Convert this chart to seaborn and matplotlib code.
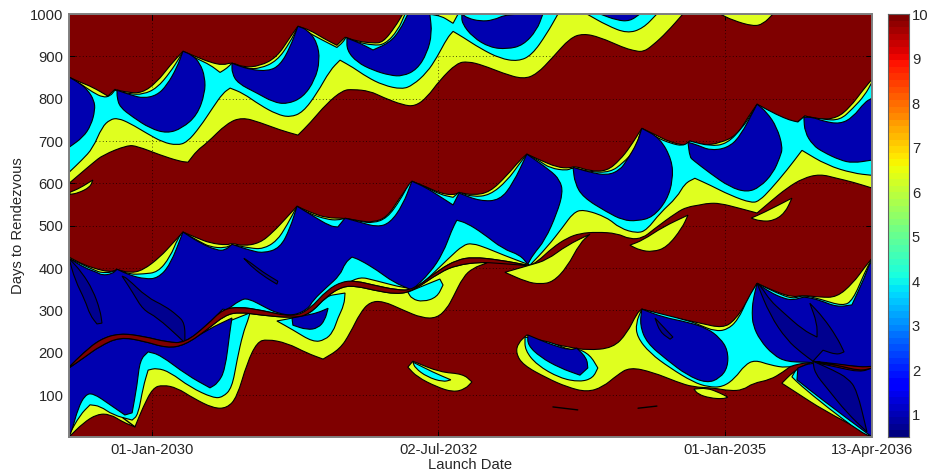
import numpy as np
import pandas as pd
import seaborn as sns
import matplotlib
matplotlib.use("Agg")
import matplotlib.pyplot as plt
from matplotlib.path import Path
from matplotlib.patches import PathPatch

# launch day (since 13-Apr-2029), days to rendezvous : contour outlines
x_ticks = [263, 1176, 2089, 2557]
x_labels = ["01-Jan-2030", "02-Jul-2032", "01-Jan-2035", "13-Apr-2036"]
y_ticks = [100, 200, 300, 400, 500, 600, 700, 800, 900, 1000]
cbar_ticks = [1, 2, 3, 4, 5, 6, 7, 8, 9, 10]

streak_upper = [(0,166),(45,199),(99,232),(162,246),(236,239),(312,225),(369,223),(439,265),(490,303),(544,308),(608,301),(713,284),(767,303),(821,348),(872,369),(917,369),(968,360),(1044,348),(1095,348),(1181,397),(1235,419),(1286,426),(1372,419),(1458,407)]
streak_lower = [(0,164),(45,187),(99,216),(162,237),(236,228),(312,211),(369,218),(439,254),(497,289),(544,296),(608,289),(713,282),(767,291),(821,334),(872,357),(917,357),(968,348),(1044,338),(1095,346),(1181,390),(1235,407),(1309,414),(1372,411),(1458,406)]
streak_right = [(2369,180),(2445,171),(2519,157),(2557,164),(2557,168),(2519,166),(2445,174)]

yellow_top = [(0,851),(35,839),(76,827),(124,806),(146,822),(185,815),(232,813),(280,839),(322,879),(363,912),(408,898),(449,886),(490,879),(519,886),(554,874),(608,877),(662,898),(704,945),(729,971),(767,962),(809,943),(853,926),(879,945),(917,936),(968,931),(1000,933),(1038,969),(1063,1000),(1955,1000),(1904,957),(1859,926),(1828,910),(1796,914),(1764,921),(1691,945),(1637,954),(1595,943),(1541,898),(1490,858),(1446,846),(1382,860),(1318,879),(1270,888),(1235,884),(1181,844),(1140,803),(1102,782),(1063,785),(1000,803),(958,818),(904,822),(872,820),(821,789),(767,742),(729,714),(672,726),(608,744),(551,756),(503,742),(439,695),(408,678),(379,650),(353,652),(290,667),(217,688),(185,690),(108,667),(76,648),(41,626),(0,600)]
cyan_top = [(0,851),(35,836),(76,815),(108,803),(131,806),(146,820),(194,811),(236,810),(280,825),(322,862),(353,898),(363,912),(411,893),(449,880),(481,862),(503,872),(519,884),(567,871),(608,871),(662,889),(704,933),(729,971),(777,950),(821,933),(853,921),(872,933),(882,945),(917,934),(968,926),(1006,928),(1048,962),(1070,1000),(1175,1000),(1223,978),(1239,1000),(1557,1000),(1522,954),(1474,903),(1430,888),(1372,895),(1309,919),(1255,945),(1223,959),(1204,943),(1172,898),(1140,862),(1095,832),(1060,822),(1000,832),(949,851),(904,874),(863,891),(831,867),(790,813),(745,768),(704,756),(662,763),(608,785),(554,813),(513,825),(490,813),(459,780),(417,733),(376,697),(344,690),(299,697),(248,718),(194,742),(156,754),(131,751),(105,733),(76,683),(41,655),(0,626)]
cyan_top2 = [(1649,1000),(1713,973),(1777,954),(1828,966),(1872,1000)]
yellow_blob_top = [(2073,1000),(2114,985),(2178,971),(2210,976),(2242,1000)]
blue_top0 = [(1691,1000),(1745,985),(1786,983),(1818,1000)]
blue_top1 = [(0,851),(35,836),(60,820),(80,796),(83,773),(70,737),(45,709),(0,685)]
blue_top2 = [(153,820),(153,803),(162,780),(204,756),(258,730),(312,718),(360,730),(408,761),(433,813),(433,851),(417,884),(392,903),(363,912),(344,874),(312,832),(280,808),(236,801),(201,808),(172,815)]
blue_top3 = [(519,884),(519,860),(538,836),(599,813),(650,792),(694,787),(745,803),(783,844),(799,891),(790,933),(761,962),(729,971),(704,921),(672,879),(634,865),(576,869),(535,879)]
blue_top4 = [(885,943),(885,914),(917,886),(968,867),(1022,855),(1063,853),(1108,869),(1140,907),(1156,954),(1149,1000),(1079,1000),(1054,962),(1022,933),(968,915),(927,931)]
blue_top5 = [(1251,1000),(1251,978),(1286,945),(1340,921),(1395,917),(1446,926),(1490,962),(1509,1000),(1395,1000),(1350,985),(1309,983),(1270,990)]
lens_left = [(3,579),(35,589),(76,608),(67,591),(29,577),(3,574)]

yellow_mid = [(0,426),(35,412),(76,400),(131,390),(153,397),(194,388),(236,395),(290,426),(331,459),(363,485),(408,471),(449,459),(503,454),(519,459),(554,452),(608,459),(650,485),(694,520),(726,546),(767,532),(821,518),(879,518),(927,511),(968,508),(1013,520),(1054,567),(1092,605),(1140,591),(1181,577),(1223,572),(1242,579),(1286,572),(1340,579),(1395,619),(1436,655),(1458,669),(1500,655),(1554,638),(1595,636),(1611,641),(1659,629),(1713,629),(1754,655),(1786,685),(1824,730),(1859,718),(1914,697),(1961,690),(1977,700),(2019,690),(2073,695),(2127,714),(2162,756),(2191,787),(2232,768),(2286,749),(2318,744),(2343,759),(2391,751),(2445,754),(2487,780),(2528,820),(2557,846),(2557,589),(2496,603),(2445,612),(2391,622),(2337,612),(2286,589),(2232,556),(2191,530),(2136,541),(2073,553),(2035,553),(2009,549),(1968,544),(1936,532),(1859,490),(1828,471),(1786,468),(1745,482),(1681,485),(1627,482),(1586,471),(1541,449),(1490,414),(1468,407)]
cyan_mid_up = [(0,423),(89,392),(108,389),(137,390),(153,397),(194,385),(236,386),(283,390),(322,426),(347,471),(363,485),(417,462),(449,450),(497,447),(519,456),(576,447),(618,445),(662,464),(694,501),(726,546),(767,528),(821,515),(856,513),(879,518),(927,510),(968,506),(1013,518),(1054,560),(1080,596),(1092,605),(1140,590),(1181,574),(1223,567),(1242,579),(1286,568),(1340,572),(1395,606),(1436,648),(1458,669),(1500,652),(1532,636),(1586,630),(1605,638),(1659,627),(1723,626),(1764,648),(1802,678),(1824,730),(1872,708),(1914,695),(1955,688),(1977,700),(2041,688),(2095,693),(2146,733),(2175,766),(2191,787),(2254,762),(2296,749),(2321,745),(2343,759),(2401,751),(2455,749),(2496,777),(2534,808),(2557,839)]
cyan_mid_low = [(2557,619),(2496,624),(2413,643),(2334,678),(2286,631),(2232,584),(2200,560),(2175,553),(2105,572),(2041,596),(1993,612),(1961,600),(1936,567),(1882,530),(1840,490),(1809,482),(1754,494),(1713,520),(1637,539),(1605,530),(1573,497),(1522,449),(1468,407),(1382,431),(1331,447),(1283,459),(1255,454),(1213,426),(1127,364),(1092,348),(968,372),(927,379),(885,364),(831,348),(790,317),(767,291)]
blue_mid1 = [(0,423),(51,400),(89,390),(105,383),(137,386),(153,397),(194,383),(242,374),(283,376),(322,407),(363,485),(417,459),(471,442),(497,442),(519,456),(576,442),(618,435),(672,447),(704,494),(726,546),(777,523),(831,499),(856,497),(879,518),(927,508),(981,497),(1022,506),(1063,549),(1092,605),(1134,591),(1175,572),(1223,549),(1242,577),(1309,558),(1372,560),(1414,600),(1458,669),(1532,631),(1563,608),(1573,579),(1554,530),(1516,466),(1477,431),(1461,409),(1436,431),(1382,445),(1318,482),(1267,506),(1235,513),(1219,490),(1191,435),(1149,388),(1092,348),(1032,367),(981,395),(927,419),(901,426),(879,412),(863,383),(821,355),(777,324),(761,303),(713,287),(662,294),(630,305),(570,329),(544,324),(503,301),(490,303)]
blue_mid2 = [(1605,638),(1611,600),(1637,567),(1713,532),(1764,513),(1809,511),(1859,520),(1904,560),(1923,608),(1920,655),(1882,707),(1824,730),(1809,695),(1777,655),(1754,631),(1713,619),(1659,626)]
blue_mid3 = [(1971,697),(1977,662),(1987,655),(2041,624),(2105,591),(2159,579),(2200,591),(2242,624),(2264,662),(2273,685),(2254,733),(2222,768),(2191,787),(2136,709),(2095,683),(2041,678),(2003,690)]
blue_mid4 = [(2340,756),(2343,721),(2369,690),(2401,674),(2455,655),(2496,648),(2557,655),(2557,801),(2534,792),(2496,756),(2455,740),(2401,747),(2369,756)]

yellow_low = [(0,1),(45,34),(89,55),(131,55),(172,36),(210,25),(236,72),(267,117),(299,124),(344,117),(395,93),(459,69),(503,69),(535,95),(567,176),(599,225),(630,232),(694,223),(758,199),(809,185),(863,209),(895,246),(927,294),(958,320),(1000,322),(1063,301),(1124,282),(1172,282),(1204,305),(1223,331),(1255,379),(1286,400),(1331,412),(1309,414),(1235,407),(1181,390)]
cyan_low1 = [(0,6),(35,53),(67,77),(99,74),(140,53),(201,41),(220,53),(236,119),(252,159),(280,164),(322,154),(385,119),(459,93),(490,95),(519,117),(535,183),(554,246),(570,277),(576,294)]
cyan_low2 = [(662,275),(713,254),(777,225),(815,230),(841,249),(856,282),(876,313),(879,341),(853,338),(821,334),(767,291),(713,282)]
cyan_low3 = [(1079,343),(1134,360),(1181,374),(1191,360),(1172,331),(1127,320),(1092,327)]
blue_low1 = [(0,1),(10,18),(29,69),(51,100),(76,105),(131,77),(178,53),(201,58),(217,124),(226,183),(252,202),(290,195),(376,147),(449,117),(474,128),(497,159),(513,254),(519,282)]
blue_low2 = [(710,282),(713,265),(758,254),(793,258),(815,277),(825,305),(790,294),(758,289)]

lens_a = [(1388,390),(1468,407),(1522,419),(1586,454),(1659,480),(1627,459),(1586,402),(1541,367),(1500,362),(1458,367)]
lens_b = [(1786,454),(1828,466),(1891,497),(1971,525),(1952,494),(1904,449),(1859,438),(1818,442)]
lens_c = [(2172,518),(2210,530),(2302,565),(2280,530),(2242,511),(2200,511)]
island_yellow = [(1095,180),(1181,154),(1255,150),(1283,131),(1261,114),(1223,107),(1172,119),(1108,143),(1079,166)]
island_cyan = [(1095,178),(1159,154),(1216,136),(1191,131),(1140,143),(1102,164)]
small_blob = [(1990,114),(2031,117),(2073,105),(2098,95),(2082,91),(2041,93),(2003,102)]

yellow_right = [(1458,242),(1509,225),(1595,213),(1649,206),(1732,211),(1777,246),(1809,294),(1824,303),(1891,289),(1977,275),(2009,270),(2082,258),(2121,277),(2162,324),(2191,364),(2254,343),(2305,331),(2337,336),(2391,331),(2445,331),(2496,364),(2534,402),(2557,423),(2557,164),(2519,157),(2445,171),(2369,178),(2312,176),(2273,154),(2232,136),(2178,128),(2146,112),(2105,110),(2050,117),(1987,119),(1936,131),(1859,154),(1786,166),(1745,147),(1700,119),(1649,107),(1586,119),(1522,140),(1446,171),(1423,199),(1430,223)]
cyan_right = [(1824,303),(1977,275),(2009,265),(2057,251),(2095,254),(2130,277),(2162,329),(2191,364),(2254,341),(2305,327),(2337,336),(2391,327),(2464,310),(2496,324),(2534,390),(2557,423),(2557,164),(2369,178),(2318,173),(2286,164),(2232,171),(2184,183),(2152,171),(2121,140),(2082,119),(2035,119),(1987,131),(1914,164),(1850,199),(1809,237),(1805,270)]
blue_right1 = [(1824,303),(1818,265),(1840,223),(1904,183),(1968,147),(2031,128),(2073,140),(2098,166),(2098,206),(2073,235),(2031,258),(1971,272),(1891,284)]
blue_right2 = [(2191,364),(2232,343),(2273,329),(2305,324),(2334,331),(2350,331),(2391,324),(2445,308),(2493,313),(2534,379),(2550,412),(2557,414),(2557,164),(2369,178),(2286,178),(2242,195),(2200,230),(2178,265),(2175,294),(2178,324)]
yellow_corner = [(2305,154),(2270,128),(2318,105),(2401,65),(2541,10),(2557,1),(2369,176),(2328,164)]
cyan_corner = [(2318,164),(2302,143),(2328,124),(2413,72),(2519,13),(2557,1),(2369,178)]
blue_corner = [(2369,178),(2321,164),(2318,136),(2391,93),(2557,1),(2557,164),(2519,154),(2445,166)]
island2_cyan = [(1452,237),(1452,206),(1490,171),(1563,140),(1627,131),(1668,140),(1684,164),(1659,195),(1617,211),(1595,206),(1541,223),(1500,230)]
island2_blue = [(1461,242),(1461,218),(1500,190),(1563,164),(1627,147),(1652,164),(1649,187),(1617,211),(1595,206),(1541,218),(1500,230)]

dark1 = [(2191,364),(2232,289),(2286,230),(2334,199),(2369,180),(2401,206),(2445,195),(2468,202),(2445,237),(2401,284),(2359,317),(2382,270),(2382,237),(2337,254),(2273,296),(2232,324),(2207,353)]
dark2 = [(2369,180),(2375,152),(2413,117),(2477,58),(2541,13),(2509,112),(2480,140),(2433,159)]
dark3 = [(1866,282),(1923,237),(1914,232),(1882,249)]
dark4 = [(0,423),(19,372),(51,324),(67,289),(89,268),(105,270),(99,301),(76,348),(41,390)]
dark5 = [(169,381),(204,341),(236,301),(280,284),(353,235),(369,223),(369,270),(344,289),(306,310),(248,331),(185,376)]
dark6 = [(557,423),(586,400),(630,376),(662,362),(665,369),(618,390),(576,414)]

marks = [[(1541,72),(1620,65)], [(1812,69),(1872,74)], [(172,46),(210,25)]]

RED, YELLOW, CYAN, BLUE, DARK = "#7f0000", "#dfff1f", "#00ffff", "#0000b0", "#00008f"

sns.set_style("white")
plt.rcParams["font.family"] = ["Liberation Sans", "DejaVu Sans"]
plt.rcParams["font.size"] = 10.6

fig = plt.figure(figsize=(9.27, 4.73), dpi=100)
ax = fig.add_axes([69 / 927, 36 / 473, 803 / 927, 423 / 473])
cax = fig.add_axes([888 / 927, 36 / 473, 21 / 927, 423 / 473])

ax.set_facecolor(RED)
z = [2]


def rounded_path(pts):
    # bezier path with the vertices as control points, real cusps stay sharp
    p = np.array(pts, dtype=float)
    s = p / [3.184, 2.36]
    n = len(p)
    verts, codes = [], []
    for i in range(n):
        a, b, c = s[i - 1], s[i], s[(i + 1) % n]
        u, v = b - a, c - b
        turn = np.degrees(np.arccos(np.clip(u @ v / (np.linalg.norm(u) * np.linalg.norm(v) + 1e-9), -1, 1)))
        start = (p[i - 1] + p[i]) / 2
        end = (p[i] + p[(i + 1) % n]) / 2
        verts.append(start)
        codes.append(Path.MOVETO if i == 0 else Path.LINETO)
        if turn > 50:
            verts += [p[i], end]
            codes += [Path.LINETO, Path.LINETO]
        else:
            verts += [p[i], end]
            codes += [Path.CURVE3, Path.CURVE3]
    verts.append(verts[0])
    codes.append(Path.CLOSEPOLY)
    return Path(verts, codes)


def region(pts, color):
    # fill + black contour line, painted in call order
    ax.add_patch(PathPatch(rounded_path(pts), facecolor=color, edgecolor="k",
                           lw=0.8, zorder=z[0]))
    z[0] += 1


tail_up = streak_upper[:9][::-1]
tail_low = streak_lower[:9][::-1]

region(yellow_top, YELLOW)
region(cyan_top, CYAN)
region(cyan_top2, CYAN)
region(yellow_blob_top, YELLOW)
for b in [blue_top0, blue_top1, blue_top2, blue_top3, blue_top4, blue_top5]:
    region(b, BLUE)
region(lens_left, YELLOW)

region(yellow_mid + streak_upper[::-1], YELLOW)
region(cyan_mid_up + cyan_mid_low + streak_upper[:12][::-1], CYAN)
region(blue_mid1 + tail_up[1:], BLUE)
for b in [blue_mid2, blue_mid3, blue_mid4]:
    region(b, BLUE)

region(yellow_low + streak_lower[:19][::-1], YELLOW)
region(cyan_low1 + tail_low[1:], CYAN)
region(cyan_low2, CYAN)
region(cyan_low3, CYAN)
region(blue_low1 + tail_low[1:], BLUE)
region(blue_low2, BLUE)

for l in [lens_a, lens_b, lens_c, island_yellow]:
    region(l, YELLOW)
region(island_cyan, CYAN)

region(yellow_right, YELLOW)
region(cyan_right, CYAN)
region(blue_right1, BLUE)
region(blue_right2, BLUE)
region(island2_cyan, CYAN)
region(island2_blue, BLUE)
region(small_blob, YELLOW)
region(yellow_corner, YELLOW)
region(cyan_corner, CYAN)
region(blue_corner, BLUE)
for d in [dark1, dark2, dark3, dark4, dark5, dark6]:
    region(d, DARK)

region(streak_upper + streak_lower[::-1], RED)
region(streak_right, RED)

for m in marks:
    mdf = pd.DataFrame(m, columns=["day", "dur"])
    sns.lineplot(data=mdf, x="day", y="dur", color="k", lw=1.0, sort=False,
                 estimator=None, legend=False, ax=ax, zorder=z[0])

ax.set_xlim(0, 2557)
ax.set_ylim(1, 1000)
ax.set_xticks(x_ticks)
ax.set_xticklabels(x_labels)
ax.set_yticks(y_ticks)
ax.grid(True, color="k", ls=(0, (1, 3)), lw=0.6, alpha=0.9)
ax.set_axisbelow(False)
for gl in ax.get_xgridlines() + ax.get_ygridlines():
    gl.set_zorder(z[0] + 1)
ax.tick_params(direction="in", length=4, width=0.7, color="k", pad=4,
               bottom=True, left=True, right=True, top=True, labelsize=10.6)
ax.set_xlabel("Launch Date", fontsize=10.6, labelpad=1)
ax.set_ylabel("Days to Rendezvous", fontsize=10.6, labelpad=4)
for s in ax.spines.values():
    s.set_visible(True)
    s.set_color("#808080")
    s.set_linewidth(1.4)
    s.set_zorder(z[0] + 2)

levels = np.linspace(10, 0.5, 64).reshape(-1, 1)
sns.heatmap(levels, cmap="jet", vmin=0.5, vmax=10, cbar=False, ax=cax,
            xticklabels=False, yticklabels=False)
cax.set_yticks([(10 - v) / 9.5 * 64 for v in cbar_ticks])
cax.set_yticklabels([str(v) for v in cbar_ticks], rotation=0)
cax.yaxis.tick_right()
cax.tick_params(axis="y", direction="in", length=3, width=0.7, color="k",
                pad=2, labelsize=10.6, right=True, left=False)
for s in cax.spines.values():
    s.set_visible(True)
    s.set_color("#606060")
    s.set_linewidth(0.8)

fig.savefig("out.png", dpi=100)
